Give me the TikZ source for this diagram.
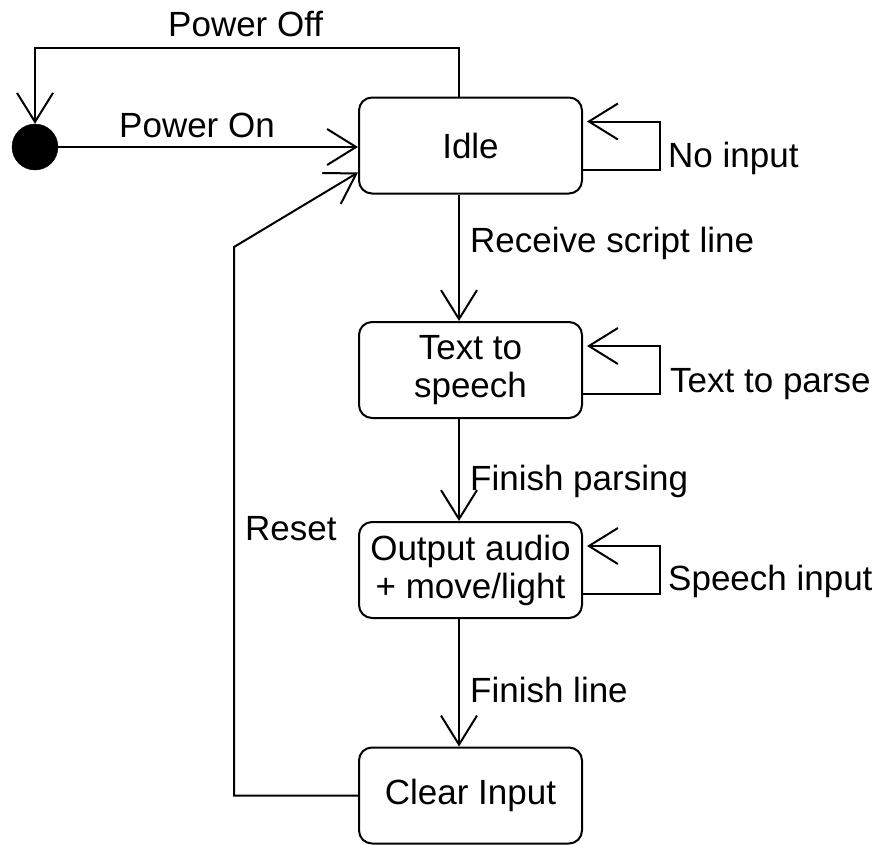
\documentclass[tikz,border=0pt]{standalone}
\usepackage{fontspec}
\setmainfont{Liberation Sans}
\usetikzlibrary{arrows.meta,calc}
\begin{document}
\begin{tikzpicture}[x=1pt,y=-1pt,
  every node/.style={font=\fontsize{35}{38}\selectfont},
  state/.style={draw,line width=2pt,rounded corners=13pt,minimum width=223pt,
    minimum height=96pt,align=center,inner sep=0pt},
  initial/.style={circle,fill=black,draw=black,minimum size=46pt,inner sep=0pt},
  flow/.style={line width=2pt,-{Straight Barb[length=29pt,width=36pt]}},
  lbl/.style={anchor=base west,inner sep=0pt}]
\useasboundingbox (0,0) rectangle (881,844);

% states
\node[initial] (init) at (35,147) {};
\node[state] (idle)  at (470.5,145.5) {Idle};
\node[state] (tts)   at (470.5,370)   {Text to\\speech};
\node[state] (out)   at (470.5,570)   {Output audio\\+ move/light};
\node[state] (clear) at (470.5,795.5) {Clear Input};

% column used by the vertical transitions
\coordinate (col) at (459,0);

% power on / off
\draw[flow] (init.east) -- (init.east -| idle.west);
\coordinate (offA) at (col |- 0,48);
\coordinate (offB) at (init.center |- 0,48);
\draw[flow] (idle.north -| col) -- (offA) -- (offB) -- (init.north);
\node[lbl] (lOff) at (168,36) {Power Off};
\node[lbl] (lOn)  at (119,137) {Power On};

% main sequence
\draw[flow] (idle.south -| col) -- (tts.north -| col);
\draw[flow] (tts.south -| col) -- (out.north -| col);
\draw[flow] (out.south -| col) -- (clear.north -| col);
\node[lbl] (lRecv)  at (470,252) {Receive script line};
\node[lbl] (lParse) at (470,490) {Finish parsing};
\node[lbl] (lLine)  at (470,702) {Finish line};

% self loops
\foreach \s in {idle,tts,out}{
  \draw[flow] ($(\s.east)+(0,24)$) -- ++(77,0) -- ++(0,-48) -- ($(\s.east)+(4,-24)$);
}
\node[lbl] (lNo)     at (668,167) {No input};
\node[lbl] (lText)   at (670,392) {Text to parse};
\node[lbl] (lSpeech) at (668,590) {Speech input};

% reset back to idle
\coordinate (rA) at (234,795.5);
\coordinate (rB) at (234,247);
\draw[flow] (clear.west) -- (rA) -- (rB) -- ($(idle.west)+(0,27)$);
\node[lbl] (lReset) at (245,540) {Reset};
\end{tikzpicture}
\end{document}
